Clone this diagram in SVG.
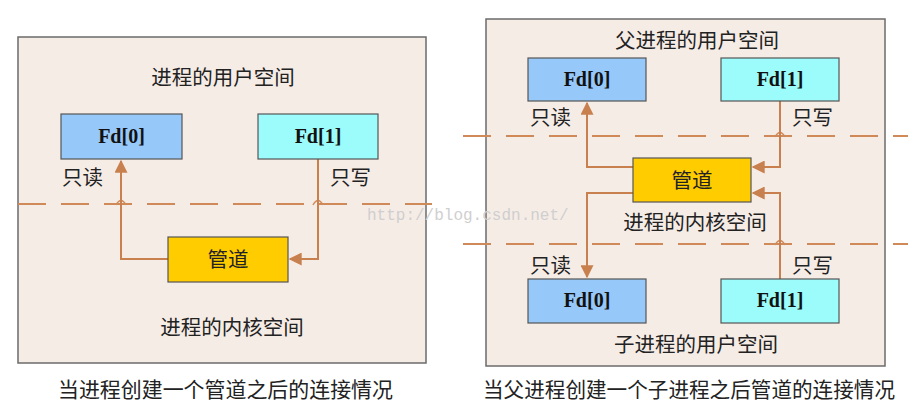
<svg xmlns="http://www.w3.org/2000/svg" width="922" height="409" viewBox="0 0 922 409">
<defs>
<style>
.panel{fill:#f6ece6;stroke:#6b6b6b;stroke-width:1.5}
.fd0{fill:#96c8fa;stroke:#555;stroke-width:1.2}
.fd1{fill:#9cfcfc;stroke:#555;stroke-width:1.2}
.pipe{fill:#ffcc00;stroke:#555;stroke-width:1.2}
.fdt{font-family:"Liberation Serif",serif;font-weight:bold;font-size:20px;fill:#111;text-anchor:middle}
.cn{font-family:"Noto Sans CJK SC",sans-serif;font-size:20.5px;fill:#222}
.cm{text-anchor:middle}
.cap{font-family:"Noto Sans CJK SC",sans-serif;font-size:21px;fill:#222}
.dash{fill:none;stroke:#d08a5a;stroke-width:2;stroke-dasharray:28 15}
.hop{fill:none;stroke:#d08a5a;stroke-width:1.5}
.conn{fill:none;stroke:#c8804e;stroke-width:2}
.wm{font-family:"Liberation Mono",monospace;font-size:16px;fill:#cfcfcf}
</style>
<marker id="ah" viewBox="0 0 10 10" refX="9" refY="5" markerWidth="6.5" markerHeight="6.5" orient="auto">
<path d="M0,0 L10,5 L0,10 z" fill="#c8804e"/>
</marker>
</defs>
<rect width="922" height="409" fill="#ffffff"/>

<g id="left-panel">
<rect class="panel" x="18" y="37" width="408" height="326"/>
<text class="cn cm" x="223" y="85">进程的用户空间</text>
<text class="cn cm" x="232" y="335">进程的内核空间</text>
</g>
<g id="right-panel">
<rect class="panel" x="486" y="19" width="399" height="347"/>
<text class="cn cm" x="697" y="48">父进程的用户空间</text>
<text class="cn cm" x="695" y="230">进程的内核空间</text>
<text class="cn cm" x="696" y="352">子进程的用户空间</text>
</g>

<g id="dividers">
<path class="dash" d="M18,204 H432"/>
<path class="dash" d="M463,136 H908"/>
<path class="dash" d="M463,244 H908"/>
<path class="hop" d="M116,205 Q121,196 126,205"/>
<path class="hop" d="M313,205 Q318,196 323,205"/>
<path class="hop" d="M775,137 Q780,128 785,137"/>
<path class="hop" d="M775,245 Q780,236 785,245"/>
</g>

<text class="wm" x="367" y="220">http://blog.csdn.net/</text>

<g id="connectors">
<path class="conn" d="M168,259 H121 V161" marker-end="url(#ah)"/>
<path class="conn" d="M318,159 V259 H290" marker-end="url(#ah)"/>
<path class="conn" d="M633,167 H587 V103" marker-end="url(#ah)"/>
<path class="conn" d="M780,101 V167 H753" marker-end="url(#ah)"/>
<path class="conn" d="M633,193 H587 V277" marker-end="url(#ah)"/>
<path class="conn" d="M780,279 V193 H753" marker-end="url(#ah)"/>
</g>

<g id="L-fd0"><rect class="fd0" x="61" y="114" width="121" height="45"/><text class="fdt" x="121.5" y="143">Fd[0]</text></g>
<g id="L-fd1"><rect class="fd1" x="258" y="114" width="120" height="45"/><text class="fdt" x="318" y="143">Fd[1]</text></g>
<g id="L-pipe"><rect class="pipe" x="168" y="237" width="120" height="45"/><text class="cn cm" x="228" y="267">管道</text></g>
<text class="cn" x="62" y="185">只读</text>
<text class="cn" x="330" y="185">只写</text>

<g id="R-fd0-top"><rect class="fd0" x="528" y="58" width="118" height="43"/><text class="fdt" x="587" y="86">Fd[0]</text></g>
<g id="R-fd1-top"><rect class="fd1" x="721" y="58" width="118" height="43"/><text class="fdt" x="780" y="86">Fd[1]</text></g>
<g id="R-pipe"><rect class="pipe" x="633" y="158" width="118" height="44"/><text class="cn cm" x="692" y="188">管道</text></g>
<g id="R-fd0-bot"><rect class="fd0" x="528" y="279" width="118" height="44"/><text class="fdt" x="587" y="307">Fd[0]</text></g>
<g id="R-fd1-bot"><rect class="fd1" x="721" y="279" width="118" height="44"/><text class="fdt" x="780" y="307">Fd[1]</text></g>
<text class="cn" x="530" y="125">只读</text>
<text class="cn" x="792" y="125">只写</text>
<text class="cn" x="530" y="273">只读</text>
<text class="cn" x="792" y="273">只写</text>

<text class="cap" x="58" y="397" textLength="335" lengthAdjust="spacingAndGlyphs">当进程创建一个管道之后的连接情况</text>
<text class="cap" x="483" y="397" textLength="412" lengthAdjust="spacingAndGlyphs">当父进程创建一个子进程之后管道的连接情况</text>
</svg>
